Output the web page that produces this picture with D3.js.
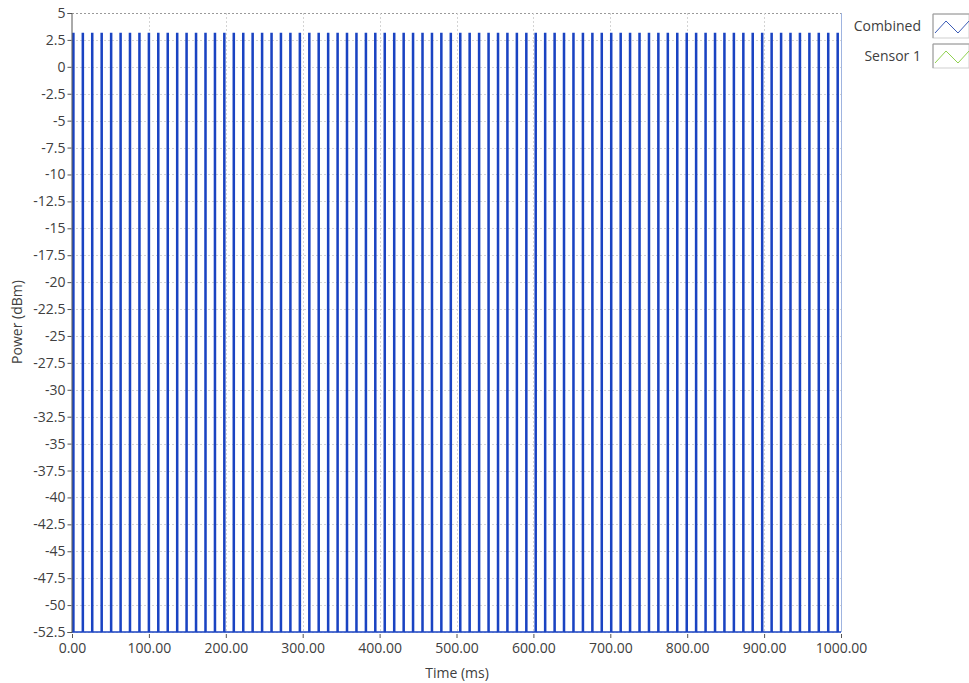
<!DOCTYPE html>
<html>
<head>
<meta charset="utf-8">
<script src="https://cdn.jsdelivr.net/npm/d3@7"></script>
<style>
  html, body { margin: 0; padding: 0; background: #fff; }
  svg { display: block; font-family: "Open Sans", "Noto Sans", sans-serif; }
</style>
</head>
<body>
<svg id="chart" width="969" height="683"></svg>
<script>
// Pulse start times (ms) of the combined power trace
const pulseTimes = [
  1.0, 13.3, 25.5, 37.8, 50.1, 62.4, 74.6, 86.9, 99.2, 111.4,
  123.7, 136.0, 148.2, 160.5, 172.8, 185.1, 197.3, 209.6, 221.9, 234.1,
  246.4, 258.7, 270.9, 283.2, 295.5, 307.8, 320.0, 332.3, 344.6, 356.8,
  369.1, 381.4, 393.6, 405.9, 418.2, 430.5, 442.7, 455.0, 467.3, 479.5,
  491.8, 504.1, 516.3, 528.6, 540.9, 553.2, 565.4, 577.7, 590.0, 602.2,
  614.5, 626.8, 639.0, 651.3, 663.6, 675.9, 688.1, 700.4, 712.7, 724.9,
  737.2, 749.5, 761.7, 774.0, 786.3, 798.6, 810.8, 823.1, 835.4, 847.6,
  859.9, 872.2, 884.4, 896.7, 909.0, 921.3, 933.5, 945.8, 958.1, 970.3,
  982.6, 994.9
];
const pulseWidth = 1.6;      // ms
const pulseHigh = 3.1;       // dBm
const pulseLow = -52.5;      // dBm

const yTickValues = [5, 2.5, 0, -2.5, -5, -7.5, -10, -12.5, -15, -17.5, -20, -22.5,
  -25, -27.5, -30, -32.5, -35, -37.5, -40, -42.5, -45, -47.5, -50, -52.5];
const xTickValues = [0, 100, 200, 300, 400, 500, 600, 700, 800, 900, 1000];

const legendNames = ["Combined", "Sensor 1"];
const legendColors = ["#3b5bb5", "#8fd14f"];

const svg = d3.select("#chart");
const plotL = 72, plotR = 841, plotT = 13, plotB = 632;
const textColor = "#404040";
const fontSize = 14;

const x = d3.scaleLinear().domain([0, 1000]).range([plotL, plotR]);
const y = d3.scaleLinear().domain([-52.5, 5]).range([plotB, plotT]);

// grid
const grid = svg.append("g");
grid.selectAll("line.h").data(yTickValues).join("line")
  .attr("x1", plotL).attr("x2", plotR)
  .attr("y1", d => Math.round(y(d)) + 0.5).attr("y2", d => Math.round(y(d)) + 0.5)
  .attr("stroke", d => d === 5 ? "#9a9a9a" : "#d4d4d4")
  .attr("stroke-dasharray", "2,2");
grid.selectAll("line.v").data(xTickValues.slice(1, -1)).join("line")
  .attr("x1", d => Math.round(x(d)) + 0.5).attr("x2", d => Math.round(x(d)) + 0.5)
  .attr("y1", plotT).attr("y2", plotB)
  .attr("stroke", "#d4d4d4")
  .attr("stroke-dasharray", "2,2");

// pulse trace
const pts = [[0, pulseLow]];
pulseTimes.forEach(t => {
  pts.push([t, pulseLow], [t, pulseHigh], [t + pulseWidth, pulseHigh], [t + pulseWidth, pulseLow]);
});
pts.push([1000, pulseLow]);

svg.append("clipPath").attr("id", "plotclip")
  .append("rect").attr("x", plotL).attr("y", plotT).attr("width", plotR - plotL).attr("height", plotB - plotT + 1);

svg.append("path")
  .datum(pts)
  .attr("clip-path", "url(#plotclip)")
  .attr("fill", "none")
  .attr("stroke", "#1a43c2")
  .attr("stroke-width", 1.3)
  .attr("d", d3.line().x(d => x(d[0])).y(d => y(d[1])));

// right border of plot
svg.append("line")
  .attr("x1", plotR + 0.5).attr("x2", plotR + 0.5).attr("y1", plotT).attr("y2", plotB)
  .attr("stroke", "#9fb4e0");

// axes
const yAxis = d3.axisLeft(y).tickValues(yTickValues).tickSize(4).tickPadding(2);
const gy = svg.append("g").attr("transform", `translate(${plotL - 0.5},0)`).call(yAxis);
gy.attr("font-family", null);
gy.select(".domain").attr("stroke", "#555");
gy.selectAll(".tick line").attr("stroke", "#555");
gy.selectAll(".tick text").attr("fill", textColor).attr("font-size", fontSize)
  .text(d => (d < 0 ? "-" : "") + Math.abs(d));

const xAxis = d3.axisBottom(x).tickValues(xTickValues).tickSize(4).tickPadding(5)
  .tickFormat(d => d.toFixed(2));
const gx = svg.append("g").attr("transform", `translate(0,${plotB + 2})`).call(xAxis);
gx.attr("font-family", null);
gx.select(".domain").remove();
gx.selectAll(".tick line").attr("stroke", "#555");
gx.selectAll(".tick text").attr("fill", textColor).attr("font-size", fontSize);

// axis titles
svg.append("text").attr("x", 457).attr("y", 678).attr("text-anchor", "middle")
  .attr("font-size", fontSize).attr("fill", textColor).text("Time (ms)");
svg.append("text").attr("transform", "translate(22,322) rotate(-90)")
  .attr("text-anchor", "middle").attr("font-size", fontSize).attr("fill", textColor).text("Power (dBm)");

// legend
const lg = svg.append("g");
legendNames.forEach((name, i) => {
  const cy = 26 + i * 30;
  lg.append("text").attr("x", 921).attr("y", cy + 5).attr("text-anchor", "end")
    .attr("font-size", fontSize).attr("fill", textColor).text(name);
  const bx = 933, by = cy - 12;
  lg.append("rect").attr("x", bx).attr("y", by).attr("width", 36).attr("height", 24)
    .attr("fill", "#fff").attr("stroke", "#cfcfcf");
  lg.append("path").attr("d", `M${bx},${by}H${bx + 36}M${bx},${by}V${by + 24}`)
    .attr("stroke", "#9a9a9a").attr("fill", "none");
  lg.append("path")
    .attr("d", `M${bx + 2},${by + 19}L${bx + 13},${by + 7}L${bx + 25},${by + 19}L${bx + 36},${by + 7}`)
    .attr("stroke", legendColors[i]).attr("fill", "none").attr("stroke-width", 1);
});
</script>
</body>
</html>
